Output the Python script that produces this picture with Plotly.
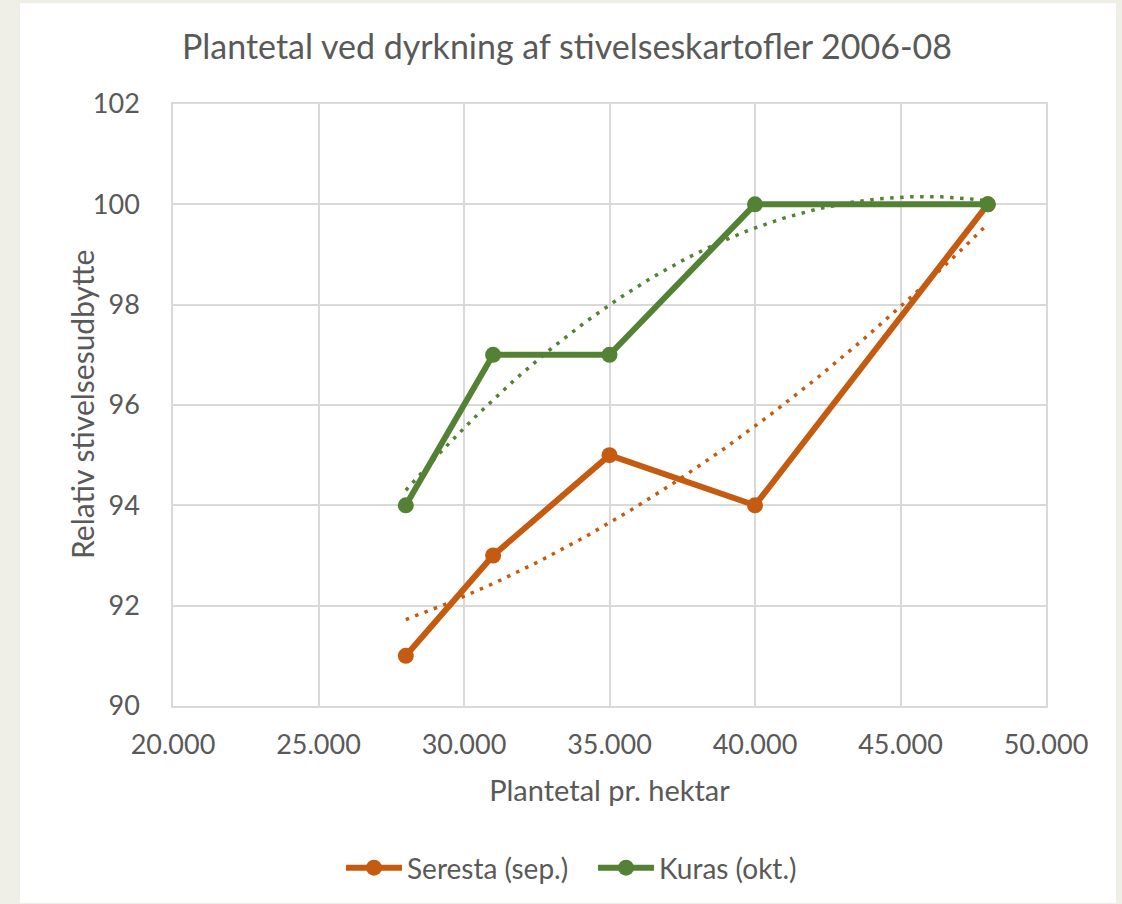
import numpy as np
import plotly.graph_objects as go

title = "Plantetal ved dyrkning af stivelseskartofler 2006-08"
x_title = "Plantetal pr. hektar"
y_title = "Relativ stivelsesudbytte"

plants = [28000, 31000, 35000, 40000, 48000]
seresta = [91, 93, 95, 94, 100]
kuras = [94, 97, 97, 100, 100]
series_names = ["Seresta (sep.)", "Kuras (okt.)"]
colors = ["#C55A11", "#548235"]

x_ticks = [20000, 25000, 30000, 35000, 40000, 45000, 50000]
y_ticks = [90, 92, 94, 96, 98, 100, 102]

FONT = "Lato"
TXT = "#595959"

fig = go.Figure()

# polynomial (order 2) trendlines fitted from the data, like the spreadsheet
xs = np.linspace(min(plants), max(plants), 200)
for ys, col in zip([seresta, kuras], colors):
    coef = np.polyfit(np.array(plants) / 1000.0, ys, 2)
    fig.add_trace(go.Scatter(
        x=xs, y=np.polyval(coef, xs / 1000.0), mode="lines",
        line=dict(color=col, width=3.5, dash="3.5px,6.5px"),
        showlegend=False, hoverinfo="skip"))

for ys, col, name in zip([seresta, kuras], colors, series_names):
    fig.add_trace(go.Scatter(
        x=plants, y=ys, mode="lines+markers", name=name,
        line=dict(color=col, width=6),
        marker=dict(color=col, size=16)))

L, R, T, B = 173, 1046, 104, 707
W, H = 1122, 904
pw, ph = R - L, B - T

fig.add_shape(type="rect", xref="paper", yref="paper",
              x0=(20 - L) / pw, x1=(1116 - L) / pw,
              y0=(B - 904) / ph, y1=(B - 3) / ph,
              fillcolor="white", line=dict(width=0), layer="below")

fig.add_annotation(text=y_title, xref="paper", yref="paper",
                   x=(82 - L) / pw, y=0.5, xanchor="center", yanchor="middle",
                   textangle=-90, showarrow=False,
                   font=dict(size=30, color=TXT, family=FONT))

fig.update_layout(
    width=W, height=H,
    margin=dict(l=L, r=W - R, t=T, b=H - B),
    paper_bgcolor="#EFEEE7", plot_bgcolor="white",
    separators=",.",
    font=dict(family=FONT, color=TXT, size=27),
    title=dict(text=title, x=(567 - L) / pw, xref="paper", xanchor="center",
               y=1 - 47 / H, yanchor="middle",
               font=dict(size=34, color=TXT, family=FONT)),
    legend=dict(orientation="h", x=(341 - L) / pw, xanchor="left",
                y=(B - 868) / ph, yanchor="middle",
                font=dict(size=28, color=TXT, family=FONT),
                itemwidth=56, entrywidth=181, entrywidthmode="pixels",
                bgcolor="rgba(0,0,0,0)"),
    xaxis=dict(range=[20000, 50000], tickvals=x_ticks, tickformat=",",
               showgrid=True, gridcolor="#D9D9D9", gridwidth=1.5,
               showline=True, linecolor="#D9D9D9", linewidth=1.5, mirror=True,
               zeroline=False, ticks="", ticklabelstandoff=14,
               tickfont=dict(size=27),
               title=dict(text=x_title, font=dict(size=29), standoff=22)),
    yaxis=dict(range=[90, 102], tickvals=y_ticks,
               showgrid=True, gridcolor="#D9D9D9", gridwidth=1.5,
               showline=True, linecolor="#D9D9D9", linewidth=1.5, mirror=True,
               zeroline=False, ticks="", ticklabelstandoff=26,
               tickfont=dict(size=27)),
)

fig.write_html("out.html", config={"displayModeBar": False}, post_script=(
    "document.body.style.margin='0';"
    "document.body.style.overflow='hidden';"
    "document.body.style.background='#EFEEE7';"))
